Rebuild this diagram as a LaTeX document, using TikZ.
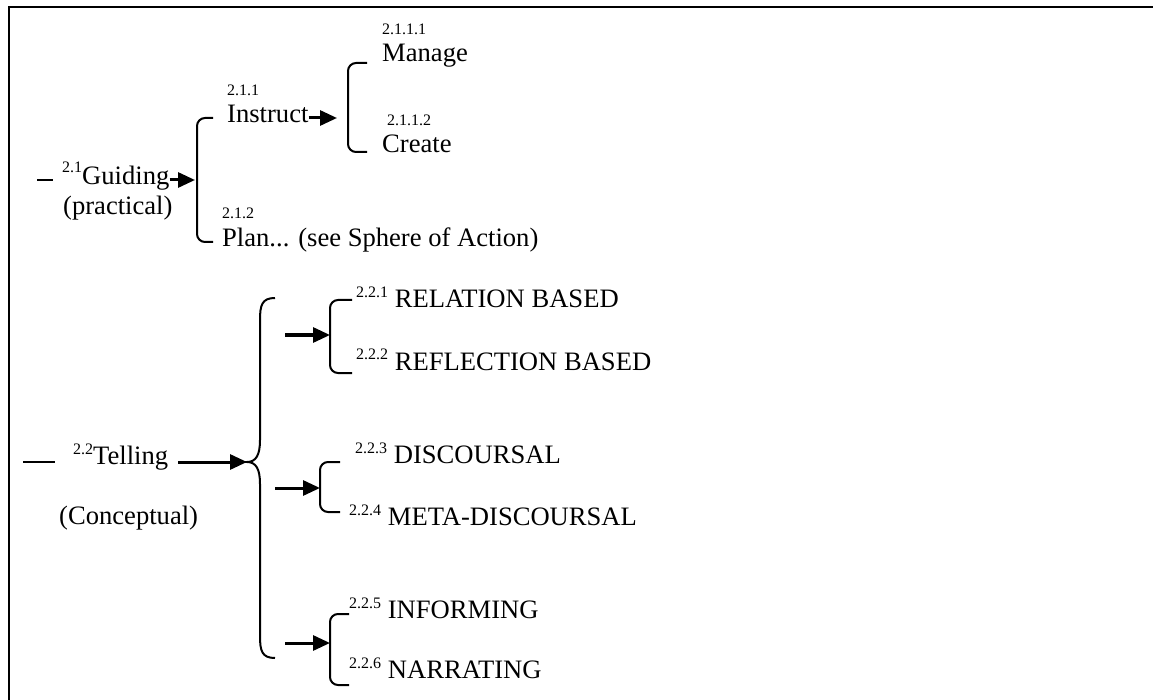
\documentclass[tikz,border=0pt]{standalone}
\usepackage{fontspec}
\setmainfont{Liberation Serif}
\usetikzlibrary{arrows.meta}

% small section number, set high before a word
\newcommand{\secno}[1]{\raisebox{10pt}{\fontsize{16}{18}\selectfont #1}}
% square bracket: spine x, top y, bottom y, end of the arms x
\newcommand{\sqbr}[4]{\draw[brk] (#4,#2) -| (#1,#3) -- (#4,#3);}

\tikzset{
  lbl/.style={anchor=base west,inner sep=0pt},
  nolbl/.style={lbl,font=\fontsize{16}{18}\selectfont},
  brk/.style={line width=2pt,rounded corners=8pt},
  arr/.style={-{Triangle[length=17pt,width=15pt]},line width=3pt},
}

\begin{document}
\begin{tikzpicture}[x=1pt,y=-1pt,font=\fontsize{26.6}{30}\selectfont]
    \useasboundingbox (0,0) rectangle (1153,700);
    \draw[line width=2pt] (1153,7) -| (9,700);

    % 2.1 guiding
    \coordinate (gstub) at (37,180);
    \draw[line width=1.5pt] (gstub) -- ++(16,0);
    \node[lbl] (guiding) at (62,185) {\raisebox{2pt}{\secno{2.1}}Guiding};
    \node[lbl] (practical) at (63,215) {(practical)};
    \coordinate (b21) at (195,180);
    \sqbr{197}{118}{242}{213}
    \draw[arr] (guiding.east |- b21) -- (b21);

    \node[nolbl] (instructno) at (227,96) {2.1.1};
    \node[lbl] (instruct) at (227,123) {Instruct};
    \node[nolbl] (planno) at (222,219) {2.1.2};
    \node[lbl] (plan) at (222,247) {Plan... (see Sphere of Action)};

    \coordinate (b211) at (337,118);
    \sqbr{348}{63}{152}{367}
    \draw[arr] (instruct.east |- b211) -- (b211);
    \node[nolbl] (manageno) at (382,35) {2.1.1.1};
    \node[lbl] (manage) at (382,62) {Manage};
    \node[nolbl] (createno) at (387,126) {2.1.1.2};
    \node[lbl] (create) at (382,153) {Create};

    % 2.2 telling
    \coordinate (tstub) at (23,462);
    \draw[line width=2.5pt] (tstub) -- ++(32,0);
    \node[lbl] (telling) at (73,464) {\secno{2.2}Telling};
    \node[lbl] (conceptual) at (59,524) {(Conceptual)};
    \coordinate (tbrace) at (247,462);
    \draw[arr] ([xshift=10pt]telling.east |- tbrace) -- (tbrace);
    \draw[line width=2pt] (275,298) .. controls (262,298) and (260,305) .. (260,320)
        -- (260,440) .. controls (260,455) and (256,462) .. (tbrace)
        .. controls (256,462) and (260,469) .. (260,484)
        -- (260,636) .. controls (260,651) and (262,658) .. (275,658);

    % three pairs on the right of the brace
    \coordinate (t1) at (285,335);
    \coordinate (b221) at (330,335);
    \sqbr{330}{300}{373}{352}
    \draw[arr] (t1) -- (b221);
    \node[lbl] (relation) at (356,308) {\secno{2.2.1} RELATION BASED};
    \node[lbl] (reflection) at (356,370) {\secno{2.2.2} REFLECTION BASED};

    \coordinate (t2) at (275,488);
    \coordinate (b223) at (320,488);
    \sqbr{320}{462}{512}{340}
    \draw[arr] (t2) -- (b223);
    \node[lbl] (discoursal) at (355,463) {\secno{2.2.3} DISCOURSAL};
    \node[lbl] (metadisc) at (349,525) {\secno{2.2.4} META-DISCOURSAL};

    \coordinate (t3) at (285,643);
    \coordinate (b225) at (330,643);
    \sqbr{330}{614}{685}{349}
    \draw[arr] (t3) -- (b225);
    \node[lbl] (informing) at (349,618) {\secno{2.2.5} INFORMING};
    \node[lbl] (narrating) at (349,678) {\secno{2.2.6} NARRATING};
\end{tikzpicture}
\end{document}
